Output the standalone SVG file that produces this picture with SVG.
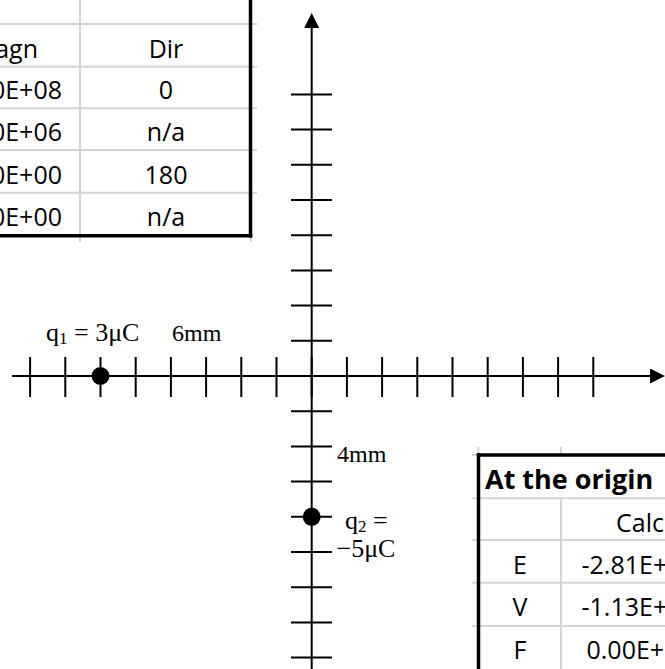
<svg xmlns="http://www.w3.org/2000/svg" width="665" height="669" viewBox="0 0 665 669">
<style>
.bg{fill:#ffffff}
.grid{stroke:#d4d4d4;stroke-width:2;fill:none}
.border{stroke:#000;stroke-width:3.5;fill:none}
.xl{font-family:"Open Sans","Liberation Sans",sans-serif;font-size:25px;fill:#000}
.xlb{font-family:"Open Sans","Liberation Sans",sans-serif;font-size:27px;font-weight:bold;fill:#000}
.axis{stroke:#000;stroke-width:2;fill:none}
.tick{stroke:#000;stroke-width:2;fill:none}
.charge{fill:#000}
.lbl{font-family:"Liberation Serif","Times New Roman",serif;font-size:24px;fill:#000}
.ql{font-family:"Liberation Serif","Times New Roman",serif;font-size:26px;fill:#000}
.sub{font-size:17px}
</style>
<defs>
<marker id="arrow" markerUnits="userSpaceOnUse" markerWidth="16" markerHeight="16" refX="2" refY="7.5" orient="auto">
<path d="M0,0 L15,7.5 L0,15 Z" fill="#000"/>
</marker>
</defs>
<rect class="bg" x="0" y="0" width="665" height="669"/>

<g id="table-top-left">
<line class="grid" x1="80" y1="0" x2="80" y2="242"/>
<line class="grid" x1="0" y1="24" x2="257" y2="24"/>
<line class="grid" x1="0" y1="66.7" x2="257" y2="66.7"/>
<line class="grid" x1="0" y1="108.3" x2="257" y2="108.3"/>
<line class="grid" x1="0" y1="150" x2="257" y2="150"/>
<line class="grid" x1="0" y1="192.7" x2="257" y2="192.7"/>
<line class="grid" x1="251" y1="236" x2="251" y2="242"/>
<line class="border" x1="250.5" y1="0" x2="250.5" y2="237.5"/>
<line class="border" x1="0" y1="235.7" x2="252.2" y2="235.7"/>
<text class="xl" x="38" y="57.5" text-anchor="end">agn</text>
<text class="xl" x="166" y="57.5" text-anchor="middle">Dir</text>
<text class="xl" x="62" y="99.3" text-anchor="end">0E+08</text>
<text class="xl" x="166" y="99.3" text-anchor="middle">0</text>
<text class="xl" x="62" y="141" text-anchor="end">0E+06</text>
<text class="xl" x="166" y="141" text-anchor="middle">n/a</text>
<text class="xl" x="62" y="183.5" text-anchor="end">0E+00</text>
<text class="xl" x="166" y="183.5" text-anchor="middle">180</text>
<text class="xl" x="62" y="226" text-anchor="end">0E+00</text>
<text class="xl" x="166" y="226" text-anchor="middle">n/a</text>
</g>

<g id="table-bottom-right">
<line class="grid" x1="478.5" y1="446.7" x2="478.5" y2="455"/>
<line class="grid" x1="561" y1="446.7" x2="561" y2="455"/>
<line class="grid" x1="472" y1="455" x2="478" y2="455"/>
<line class="grid" x1="472" y1="498.3" x2="665" y2="498.3"/>
<line class="grid" x1="472" y1="540" x2="665" y2="540"/>
<line class="grid" x1="472" y1="582.7" x2="665" y2="582.7"/>
<line class="grid" x1="472" y1="626" x2="665" y2="626"/>
<line class="grid" x1="561" y1="498.3" x2="561" y2="669"/>
<line class="border" x1="478.5" y1="453.3" x2="478.5" y2="669"/>
<line class="border" x1="476.8" y1="455" x2="665" y2="455"/>
<text class="xlb" x="485" y="488.5">At the origin</text>
<text class="xl" x="616" y="531.7">Calc</text>
<text class="xl" x="520" y="573.5" text-anchor="middle">E</text>
<text class="xl" x="581.5" y="573.5">-2.81E+</text>
<text class="xl" x="520" y="616" text-anchor="middle">V</text>
<text class="xl" x="581.5" y="616">-1.13E+</text>
<text class="xl" x="520" y="658.5" text-anchor="middle">F</text>
<text class="xl" x="586.5" y="658.5">0.00E+</text>
</g>

<g id="connectors">
<g id="axes">
<line class="axis" x1="311.7" y1="669" x2="311.7" y2="26" marker-end="url(#arrow)"/>
<line class="axis" x1="12" y1="376" x2="652" y2="376" marker-end="url(#arrow)"/>
</g>
<g id="ticks-y">
<path class="tick" d="M291,94.4H332M291,129.6H332M291,164.8H332M291,200H332M291,235.2H332M291,270.4H332M291,305.6H332M291,340.8H332M291,376H332M291,411.2H332M291,446.4H332M291,481.6H332M291,516.8H332M291,552H332M291,587.2H332M291,622.4H332M291,657.6H332"/>
</g>
<g id="ticks-x">
<path class="tick" d="M30.1,357V397M65.3,357V397M100.5,357V397M135.7,357V397M170.9,357V397M206.1,357V397M241.3,357V397M276.5,357V397M311.7,357V397M346.9,357V397M382.1,357V397M417.3,357V397M452.5,357V397M487.7,357V397M522.9,357V397M558.1,357V397M593.3,357V397"/>
</g>
</g>

<g id="q1">
<circle class="charge" cx="100.5" cy="376" r="9"/>
<text class="ql" x="46" y="341">q<tspan class="sub" dy="3">1</tspan><tspan dy="-3"> = 3μC</tspan></text>
</g>
<g id="label-6mm">
<text class="lbl" x="172" y="341">6mm</text>
</g>
<g id="label-4mm">
<text class="lbl" x="337" y="461.5">4mm</text>
</g>
<g id="q2">
<circle class="charge" cx="311.7" cy="516.8" r="9"/>
<text class="ql" x="345" y="529">q<tspan class="sub" dy="3">2</tspan><tspan dy="-3"> =</tspan><tspan x="336.5" y="557">−5μC</tspan></text>
</g>
</svg>
